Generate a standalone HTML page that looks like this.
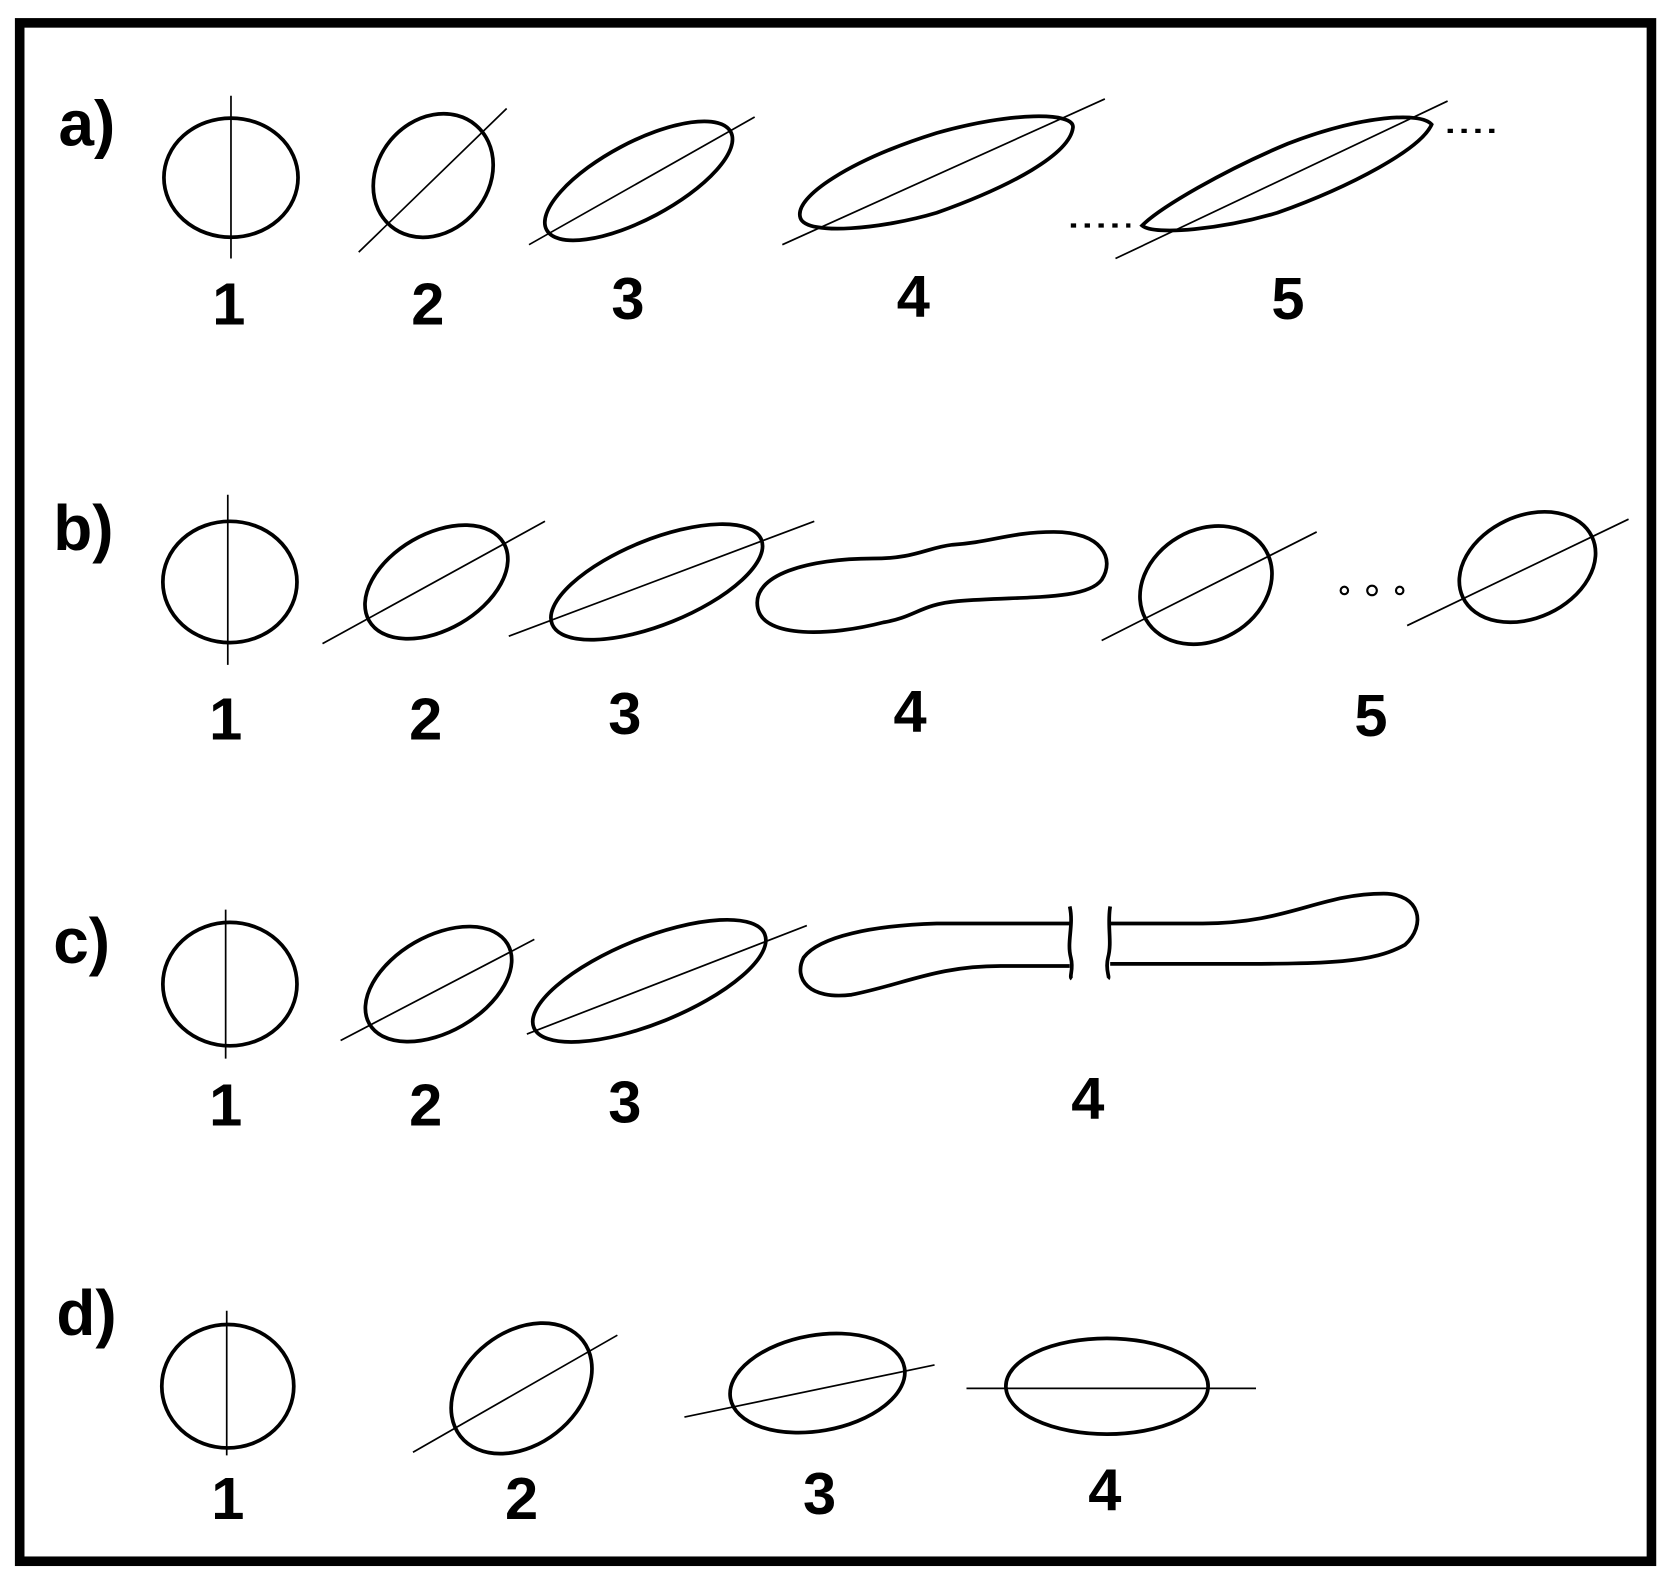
<!DOCTYPE html>
<html><head><style>
html,body{margin:0;padding:0;background:#fff;}
svg{display:block;}
text{font-family:"Liberation Sans",sans-serif;font-weight:bold;fill:#000;}
</style></head><body>
<svg width="1669" height="1582" viewBox="0 0 1568 1487" preserveAspectRatio="none" xmlns="http://www.w3.org/2000/svg">
<rect x="18.5" y="21.5" width="1533" height="1446" fill="#fff" stroke="#000" stroke-width="9"/>
<g fill="none" stroke="#000" stroke-width="3.5">
<!-- row a -->
<ellipse cx="217" cy="167" rx="63" ry="56"/>
<ellipse cx="407" cy="165" rx="62" ry="52" transform="rotate(-50 407 165)"/>
<ellipse cx="600" cy="170" rx="98" ry="36" transform="rotate(-28 600 170)"/>
<path d="M752,205 C745,185 800,150 880,125 C950,105 1010,105 1008,120 C1005,145 950,175 880,200 C830,215 758,222 752,205 Z"/>
<path d="M1073,212 C1090,195 1150,160 1210,135 C1280,108 1335,105 1345,117 C1335,140 1270,175 1200,200 C1150,215 1085,222 1073,212 Z"/>
<!-- row b -->
<ellipse cx="216" cy="547" rx="63" ry="57"/>
<ellipse cx="410" cy="547" rx="73" ry="45" transform="rotate(-30 410 547)"/>
<ellipse cx="617" cy="547" rx="106" ry="40" transform="rotate(-22 617 547)"/>
<path d="M712,572 C705,540 760,525 820,525 C860,525 870,515 895,512 C930,510 950,500 990,500 C1035,500 1048,525 1035,545 C1020,565 960,560 900,565 C865,568 860,580 830,585 C780,598 718,600 712,572 Z"/>
<ellipse cx="1133" cy="550" rx="65" ry="52" transform="rotate(-30 1133 550)"/>
<ellipse cx="1435" cy="533" rx="67" ry="48" transform="rotate(-25 1435 533)"/>
<!-- row c -->
<ellipse cx="216" cy="925" rx="63" ry="58"/>
<ellipse cx="412" cy="925" rx="75" ry="45" transform="rotate(-30 412 925)"/>
<ellipse cx="610" cy="922" rx="117" ry="40" transform="rotate(-22 610 922)"/>
<path d="M1005,868 L880,868 C820,870 770,880 755,900 C745,920 760,940 800,935 C850,925 880,908 940,908 L1005,908"/>
<path d="M1005,852 C1009,870 1002,885 1006,900 C1009,912 1004,918 1007,920"/>
<path d="M1043,852 C1040,870 1045,885 1041,900 C1038,912 1043,918 1041,920"/>
<path d="M1043,868 L1130,868 C1210,868 1240,840 1300,840 C1335,840 1340,870 1320,888 C1290,905 1250,906 1150,906 L1043,906"/>
<!-- row d -->
<ellipse cx="214" cy="1303" rx="62" ry="58"/>
<ellipse cx="490" cy="1305" rx="73" ry="53" transform="rotate(-38 490 1305)"/>
<ellipse cx="768" cy="1300" rx="83" ry="45" transform="rotate(-10 768 1300)"/>
<ellipse cx="1040" cy="1303" rx="95" ry="45"/>
</g>
<g fill="none" stroke="#000" stroke-width="1.6">
<line x1="217" y1="90" x2="217" y2="243"/>
<line x1="337" y1="237" x2="476" y2="102"/>
<line x1="497" y1="230" x2="709" y2="110"/>
<line x1="735" y1="230" x2="1038" y2="93"/>
<line x1="1048" y1="243" x2="1360" y2="95"/>
<line x1="214" y1="465" x2="214" y2="625"/>
<line x1="303" y1="605" x2="512" y2="490"/>
<line x1="478" y1="598" x2="765" y2="490"/>
<line x1="1035" y1="602" x2="1237" y2="500"/>
<line x1="1322" y1="588" x2="1530" y2="488"/>
<line x1="212" y1="855" x2="212" y2="995"/>
<line x1="320" y1="978" x2="502" y2="883"/>
<line x1="495" y1="972" x2="758" y2="870"/>
<line x1="213" y1="1232" x2="213" y2="1368"/>
<line x1="388" y1="1365" x2="580" y2="1255"/>
<line x1="643" y1="1332" x2="878" y2="1283"/>
<line x1="908" y1="1305" x2="1180" y2="1305"/>
</g>
<g stroke="#000" stroke-width="4" stroke-dasharray="5,8" fill="none">
<line x1="1360" y1="123" x2="1410" y2="123"/>
<line x1="1006" y1="212" x2="1062" y2="212"/>
</g>
<g fill="none" stroke="#000" stroke-width="2">
<circle cx="1263" cy="555" r="3.5"/><circle cx="1289" cy="555" r="4.5"/><circle cx="1315" cy="555" r="3.5"/>
</g>
<g font-size="60">
<text x="55" y="137">a)</text>
<text x="50" y="517">b)</text>
<text x="50" y="905">c)</text>
<text x="53" y="1255">d)</text>
</g>
<g font-size="56" text-anchor="middle">
<text x="215" y="305">1</text><text x="402" y="305">2</text><text x="590" y="300">3</text><text x="858" y="298">4</text><text x="1210" y="300">5</text>
<text x="212" y="695">1</text><text x="400" y="695">2</text><text x="587" y="690">3</text><text x="855" y="688">4</text><text x="1288" y="692">5</text>
<text x="212" y="1058">1</text><text x="400" y="1058">2</text><text x="587" y="1055">3</text><text x="1022" y="1052">4</text>
<text x="214" y="1428">1</text><text x="490" y="1428">2</text><text x="770" y="1423">3</text><text x="1038" y="1420">4</text>
</g>
</svg>
</body></html>
